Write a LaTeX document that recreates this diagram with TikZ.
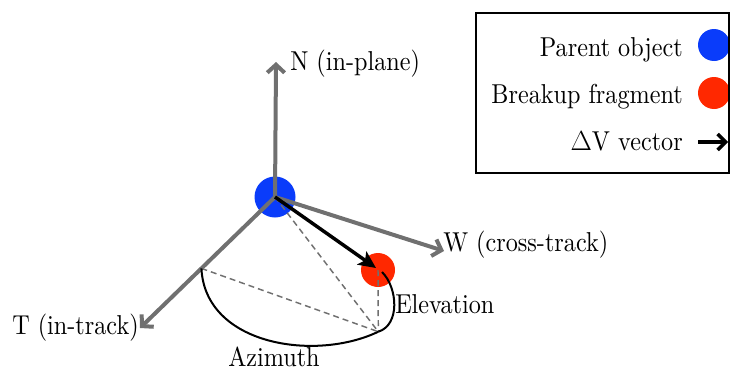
\documentclass[tikz,border=0pt]{standalone}
\usepackage{fontspec}
\newfontfamily\figfont{lmroman10-regular.otf}[FakeStretch=0.885]
\usetikzlibrary{arrows.meta,calc}
\definecolor{pblue}{RGB}{10,60,250}
\definecolor{fred}{RGB}{255,40,0}
\definecolor{axgray}{RGB}{112,112,112}
\begin{document}
\begin{tikzpicture}[x=0.75pt,y=-0.75pt,
 lbl/.style={font=\figfont\fontsize{20.5}{24}\selectfont, inner sep=0pt},
 axis/.style={draw=axgray, line width=3pt, -{Straight Barb[length=6pt,width=13pt]}},
 dv/.style={draw=black, line width=2.6pt, -{Stealth[length=13pt,width=12pt,inset=3pt]}},
 guide/.style={draw=axgray, line width=1.1pt, dash pattern=on 4.5pt off 3pt},
 arcline/.style={draw=black, line width=1.5pt},
 dot/.style={circle, inner sep=0pt, minimum size=#1}]
\useasboundingbox (0,0) rectangle (730,371);
% objects
\node[dot=30.75pt, fill=pblue] (O) at (275,197) {};
\node[dot=25.5pt, fill=fred] (F) at (378,270) {};
\coordinate (Ntip) at (276,62);
\coordinate (Wtip) at (444,251);
\coordinate (Ttip) at (140,328);
\coordinate (B) at (378.3,331.7);
\coordinate (Tp) at ($(O.center)!0.545!(Ttip)$);
\coordinate (Eend) at ($(F.center)+(4,2)$);
\coordinate (DVtip) at ($(F.center)+(-2,-2)$);
% guides
\draw[guide] (O.center) -- (B);
\draw[guide] (Tp) -- (B);
\draw[guide] (F.center) -- (B);
% axes
\draw[axis] (O.center) -- (Ntip);
\draw[axis] (O.center) -- (Wtip);
\draw[axis] (O.center) -- (Ttip);
% arcs
\draw[arcline] (Tp) .. controls (205,345) and (315,362) .. (B);
\draw[arcline] (B) .. controls (400,325) and (398,288) .. (Eend);
% delta-V
\draw[dv] (O.center) -- (DVtip);
% labels
\node[lbl, anchor=base west] (Nl) at (290,70) {N (in-plane)};
\node[lbl, anchor=base west] (Wl) at (443,251.5) {W (cross-track)};
\node[lbl, anchor=base west] (Tl) at (12,334) {T (in-track)};
\node[lbl, anchor=base west] (Az) at (228,366) {Azimuth};
\node[lbl, anchor=base west] (El) at (395,313) {Elevation};
% legend
\node[lbl, anchor=base east] (Lt1) at (683,56) {Parent object};
\node[lbl, anchor=base east] (Lt2) at (683,103) {Breakup fragment};
\node[lbl, anchor=base east] (Lt3) at (683,150) {$\Delta$V vector};
\node[dot=24pt, fill=pblue] (Lp) at (714,45) {};
\node[dot=24pt, fill=fred] (Lf) at (714,93) {};
\coordinate (La) at (698,142);
\coordinate (Lb) at (728,142);
\draw[line width=2.6pt, -{Straight Barb[length=6pt,width=12pt]}] (La) -- (Lb);
\draw[line width=1.5pt] (476,13) rectangle (728.5,173);
\end{tikzpicture}
\end{document}
